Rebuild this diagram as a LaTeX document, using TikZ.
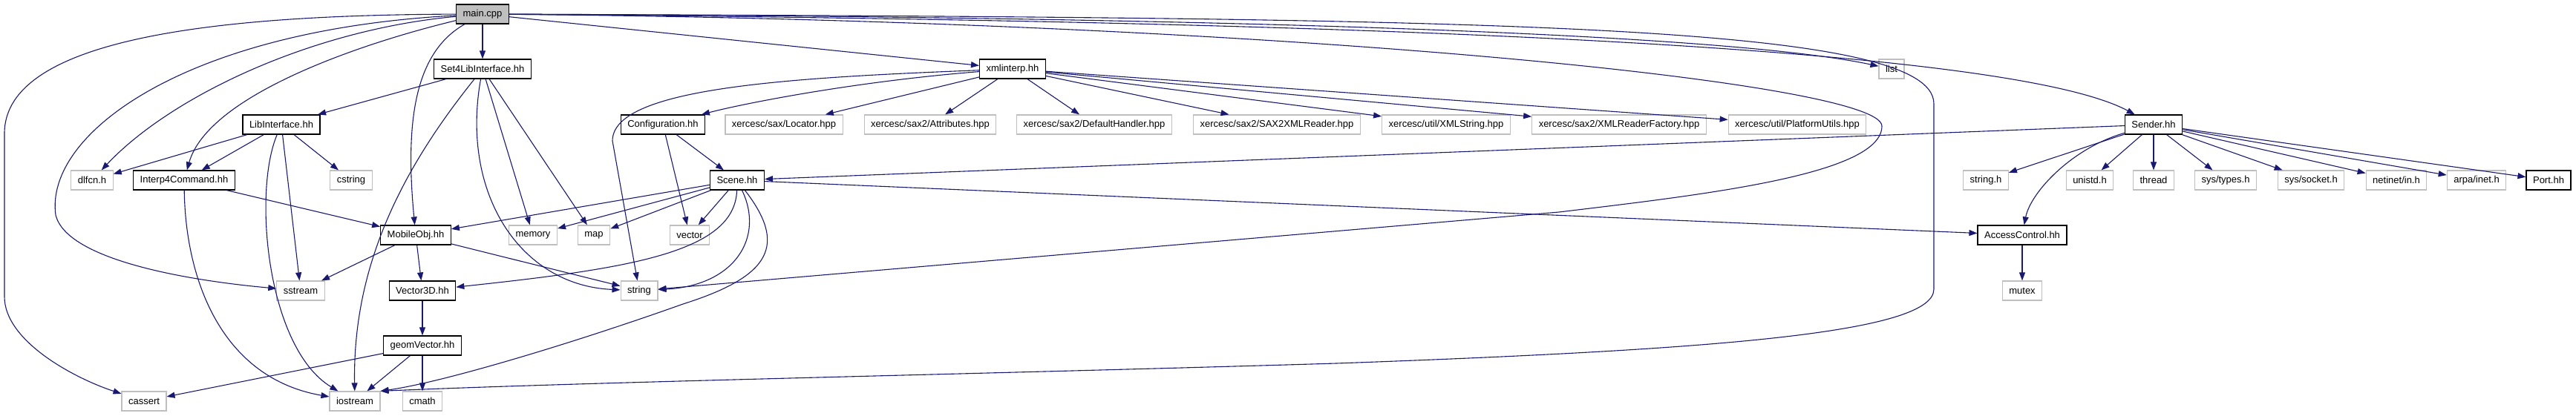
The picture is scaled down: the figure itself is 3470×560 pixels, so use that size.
\documentclass[tikz,border=0pt]{standalone}
\usepackage{fontspec}
\setmainfont{Liberation Sans}
\usetikzlibrary{arrows.meta}
\definecolor{edgeblue}{RGB}{25,25,112}
\definecolor{nodegray}{RGB}{191,191,191}

\begin{document}
\begin{tikzpicture}[x=1pt,y=-1pt]

	\tikzset{
		box/.style={
			draw=black,
			line width=1.2pt,
			fill=white,
			minimum height=26pt,
			inner xsep=9pt,
			inner ysep=0pt,
			font=\fontsize{13}{15}\selectfont
		},
		sysbox/.style={box,draw=nodegray},
		mainbox/.style={box,fill=nodegray},
		dep/.style={-{Triangle[length=11pt,width=8pt]},draw=edgeblue,line width=1.1pt}
	}

	\useasboundingbox (0,0) rectangle (3470,560);

	\node[mainbox] (main) at (650,19) {main.cpp};

	\node[box] (set4) at (650,93) {Set4LibInterface.hh};
	\node[box] (xmli) at (1364,93) {xmlinterp.hh};
	\node[sysbox] (list) at (2548,93) {list};

	\node[box] (libif) at (379,168) {LibInterface.hh};
	\node[box] (conf) at (893,168) {Configuration.hh};
	\node[sysbox] (locator) at (1056,168) {xercesc/sax/Locator.hpp};
	\node[sysbox] (attrib) at (1253,168) {xercesc/sax2/Attributes.hpp};
	\node[sysbox] (defh) at (1474,168) {xercesc/sax2/DefaultHandler.hpp};
	\node[sysbox] (saxr) at (1720,168) {xercesc/sax2/SAX2XMLReader.hpp};
	\node[sysbox] (xmlstr) at (1948,168) {xercesc/util/XMLString.hpp};
	\node[sysbox] (xmlrf) at (2181,168) {xercesc/sax2/XMLReaderFactory.hpp};
	\node[sysbox] (platu) at (2421,168) {xercesc/util/PlatformUtils.hpp};
	\node[box] (sender) at (2901,168) {Sender.hh};

	\node[sysbox] (dlfcn) at (124,243) {dlfcn.h};
	\node[box] (interp) at (248,243) {Interp4Command.hh};
	\node[sysbox] (cstring) at (473,243) {cstring};
	\node[box] (scene) at (993,243) {Scene.hh};
	\node[sysbox] (stringh) at (2675,243) {string.h};
	\node[sysbox] (unistd) at (2815,243) {unistd.h};
	\node[sysbox] (thread) at (2901,243) {thread};
	\node[sysbox] (systypes) at (2998,243) {sys/types.h};
	\node[sysbox] (syssock) at (3113,243) {sys/socket.h};
	\node[sysbox] (netin) at (3228,243) {netinet/in.h};
	\node[sysbox] (arpa) at (3336,243) {arpa/inet.h};
	\node[box] (port) at (3433,243) {Port.hh};

	\node[box] (mobile) at (560,317) {MobileObj.hh};
	\node[sysbox] (memory) at (718,317) {memory};
	\node[sysbox] (map) at (800,317) {map};
	\node[sysbox] (vector) at (929,317) {vector};
	\node[box] (access) at (2724,317) {AccessControl.hh};

	\node[sysbox] (sstream) at (405,392) {sstream};
	\node[box] (vec3d) at (569,392) {Vector3D.hh};
	\node[sysbox] (string) at (861,392) {string};
	\node[sysbox] (mutex) at (2724,392) {mutex};

	\node[box] (geom) at (569,466) {geomVector.hh};

	\node[sysbox] (cassert) at (194,541) {cassert};
	\node[sysbox] (iostream) at (478,541) {iostream};
	\node[sysbox] (cmath) at (569,541) {cmath};

	% main.cpp
	\draw[dep] (main) -- (set4);
	\draw[dep] (main) -- (xmli);
	\draw[dep] (main) .. controls (1500,22) and (2300,40) .. (list);
	\draw[dep] (main) .. controls (1800,28) and (2700,60) .. (sender);
	\draw[dep] (main) .. controls (2000,24) and (2605,30) .. (2605,140) -- (2605,390)
		.. controls (2605,450) and (2300,472) .. (1800,490)
		.. controls (1300,505) and (800,515) .. (iostream.north east);
	\draw[dep] (main) .. controls (1700,28) and (2535,110) .. (2535,170)
		.. controls (2535,235) and (2300,262) .. (2100,286) -- (string);
	\draw[dep] (main) .. controls (420,40) and (230,130) .. (dlfcn);
	\draw[dep] (main) .. controls (480,60) and (280,130) .. (interp);
	\draw[dep] (main) .. controls (250,40) and (60,180) .. (75,290)
		.. controls (90,350) and (250,378) .. (sstream);
	\draw[dep] (main) .. controls (300,20) and (6,50) .. (6,180) -- (6,400)
		.. controls (6,460) and (100,510) .. (cassert);
	\draw[dep] (main) .. controls (560,70) and (545,160) .. (mobile);

	% Set4LibInterface.hh
	\draw[dep] (set4) -- (libif);
	\draw[dep] (set4) .. controls (540,230) and (475,360) .. (iostream);
	\draw[dep] (set4) .. controls (620,260) and (700,385) .. (string);
	\draw[dep] (set4) -- (memory);
	\draw[dep] (set4) -- (map);

	% LibInterface.hh
	\draw[dep] (libif) -- (dlfcn);
	\draw[dep] (libif) -- (interp);
	\draw[dep] (libif) .. controls (340,260) and (360,470) .. (iostream);
	\draw[dep] (libif) -- (sstream);
	\draw[dep] (libif) -- (cstring);

	\draw[dep] (interp) -- (mobile);
	\draw[dep] (interp) .. controls (250,380) and (300,510) .. (iostream);

	\draw[dep] (conf) -- (scene);
	\draw[dep] (conf) -- (vector);

	% xmlinterp.hh
	\draw[dep] (xmli) .. controls (1150,110) and (1000,140) .. (conf);
	\draw[dep] (xmli) .. controls (1050,105) and (825,120) .. (825,190) -- (string);
	\draw[dep] (xmli) -- (locator);
	\draw[dep] (xmli) -- (attrib);
	\draw[dep] (xmli) -- (defh);
	\draw[dep] (xmli) -- (saxr);
	\draw[dep] (xmli) -- (xmlstr);
	\draw[dep] (xmli) -- (xmlrf);
	\draw[dep] (xmli) -- (platu);

	% Sender.hh
	\draw[dep] (sender) -- (scene);
	\draw[dep] (sender) .. controls (2790,200) and (2735,260) .. (access);
	\draw[dep] (sender) -- (stringh);
	\draw[dep] (sender) -- (unistd);
	\draw[dep] (sender) -- (thread);
	\draw[dep] (sender) -- (systypes);
	\draw[dep] (sender) -- (syssock);
	\draw[dep] (sender) -- (netin);
	\draw[dep] (sender) -- (arpa);
	\draw[dep] (sender) -- (port);

	% Scene.hh
	\draw[dep] (scene) -- (mobile);
	\draw[dep] (scene) -- (memory);
	\draw[dep] (scene) -- (map);
	\draw[dep] (scene) -- (vector);
	\draw[dep] (scene) .. controls (990,340) and (850,362) .. (vec3d);
	\draw[dep] (scene) .. controls (1030,320) and (990,385) .. (string);
	\draw[dep] (scene) .. controls (1060,330) and (1040,372) .. (920,410)
		.. controls (780,460) and (600,515) .. (iostream.north east);
	\draw[dep] (scene) -- (access);

	\draw[dep] (access) -- (mutex);

	\draw[dep] (mobile) -- (sstream);
	\draw[dep] (mobile) -- (vec3d);
	\draw[dep] (mobile) -- (string);

	\draw[dep] (vec3d) -- (geom);
	\draw[dep] (geom) -- (cassert);
	\draw[dep] (geom) -- (iostream);
	\draw[dep] (geom) -- (cmath);

\end{tikzpicture}
\end{document}
